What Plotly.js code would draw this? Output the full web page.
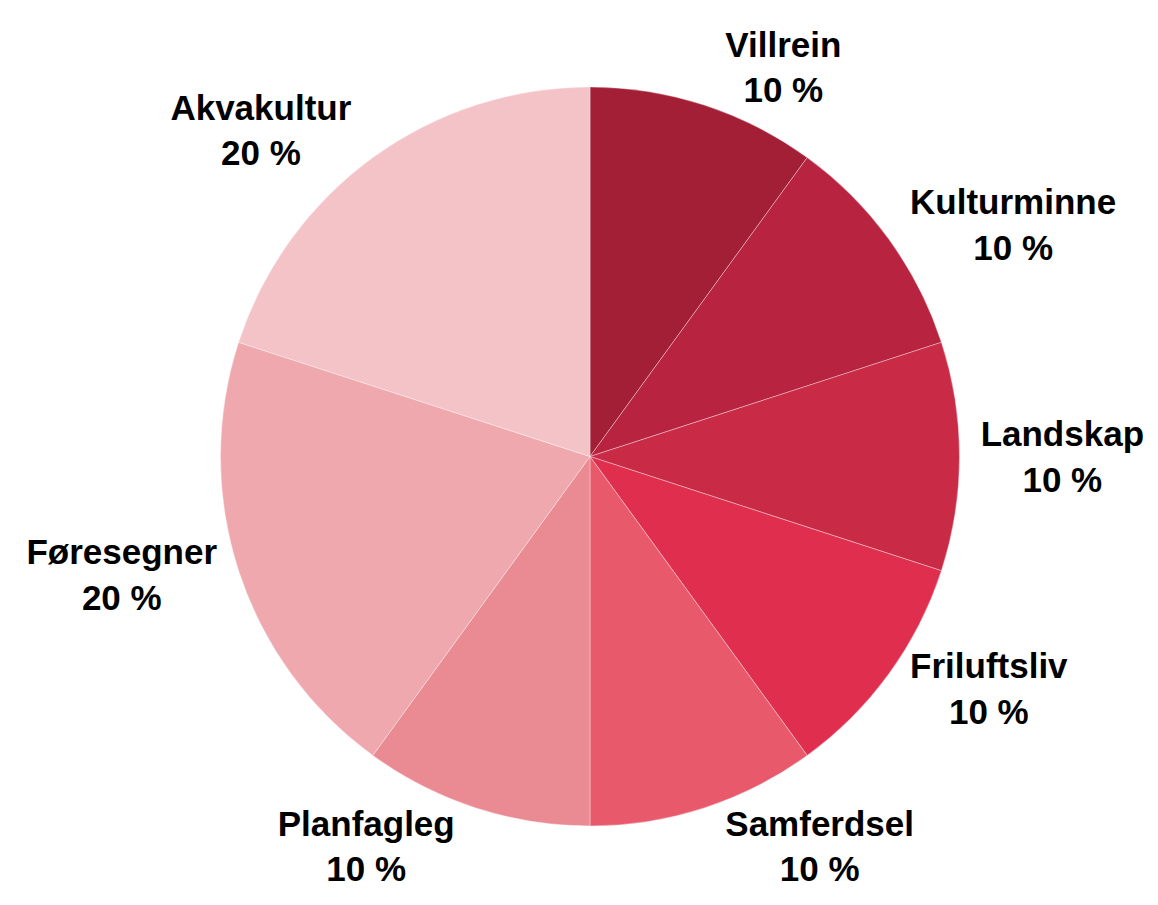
<!DOCTYPE html>
<html>
<head>
<meta charset="utf-8">
<script src="https://cdn.plot.ly/plotly-3.0.1.min.js"></script>
<style>html,body{margin:0;padding:0;background:#fff;}#chart{width:1158px;height:905px;}</style>
</head>
<body>
<div id="chart"></div>
<script>
const categories = ["Villrein", "Kulturminne", "Landskap", "Friluftsliv", "Samferdsel", "Planfagleg", "Føresegner", "Akvakultur"];
const values = [10, 10, 10, 10, 10, 10, 20, 20];
const colors = ["#A31F36", "#B8243F", "#C92A45", "#E02E4E", "#E8596B", "#EA8A92", "#EFA8AD", "#F4C3C7"];

const total = values.reduce((a, b) => a + b, 0);
const pctText = values.map(v => Math.round(v / total * 100).toString());

const trace = {
  type: "pie",
  labels: categories,
  values: values,
  text: pctText,
  sort: false,
  direction: "clockwise",
  rotation: 0,
  marker: {colors: colors, line: {color: "rgba(255,255,255,0.35)", width: 1}},
  textinfo: "label+text",
  texttemplate: "%{label}<br>%{text} %",
  textposition: "outside",
  textfont: {family: "Liberation Sans, Arial, sans-serif", size: 35, color: "#000", weight: "bold"},
  domain: {x: [220/1158, 960/1158], y: [1 - 826/905, 1 - 87/905]},
  hoverinfo: "skip"
};

const layout = {
  width: 1158, height: 905,
  margin: {l: 0, r: 0, t: 0, b: 0},
  showlegend: false,
  paper_bgcolor: "#fff",
  font: {family: "Liberation Sans, Arial, sans-serif"}
};

Plotly.newPlot("chart", [trace], layout, {displayModeBar: false, staticPlot: true});
</script>
</body>
</html>
